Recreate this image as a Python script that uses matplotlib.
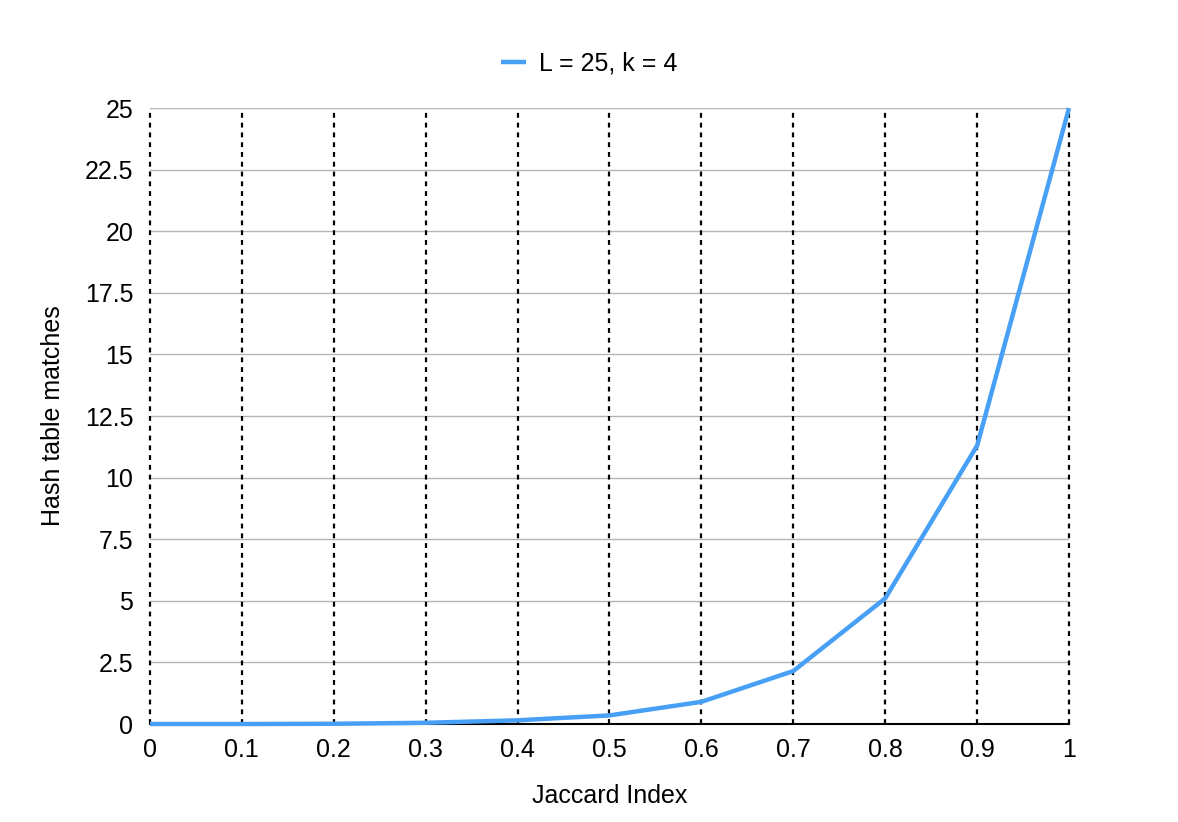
import numpy as np
import matplotlib.pyplot as plt

plt.rcParams['font.family'] = ['Liberation Sans', 'DejaVu Sans']

# Data
jaccard = [0, 0.1, 0.2, 0.3, 0.4, 0.5, 0.6, 0.7, 0.8, 0.9, 1.0]
matches = [0, 0, 0.01, 0.05, 0.15, 0.35, 0.9, 2.15, 5.1, 11.3, 25]
series_label = 'L = 25, k = 4'
x_ticks = [0, 0.1, 0.2, 0.3, 0.4, 0.5, 0.6, 0.7, 0.8, 0.9, 1]
x_tick_labels = ['0', '0.1', '0.2', '0.3', '0.4', '0.5', '0.6', '0.7', '0.8', '0.9', '1']
y_ticks = [0, 2.5, 5, 7.5, 10, 12.5, 15, 17.5, 20, 22.5, 25]
y_tick_labels = ['0', '2.5', '5', '7.5', '10', '12.5', '15', '17.5', '20', '22.5', '25']

fig = plt.figure(figsize=(11.78, 8.22), dpi=100)
ax = fig.add_axes([0.1273, 0.1192, 0.7802, 0.7494])

# horizontal gray grid, vertical black dotted grid
for y in y_ticks[1:]:
    ax.axhline(y, color='#b5b5b5', lw=1, zorder=1)
for x in x_ticks:
    ax.axvline(x, color='black', lw=1.6, ls=(0, (2.2, 2.2)), zorder=1, clip_on=False)

ax.plot(jaccard, matches, color='#47a0f5', lw=3.2, solid_capstyle='butt',
        solid_joinstyle='round', label=series_label, zorder=3, clip_on=False)

ax.set_xlim(0, 1)
ax.set_ylim(0, 25)
ax.set_xticks(x_ticks)
ax.set_xticklabels(x_tick_labels)
ax.set_yticks(y_ticks)
ax.set_yticklabels(y_tick_labels)
ax.tick_params(length=0, labelsize=18, pad=10)
ax.tick_params(axis='y', pad=12)

for s in ['top', 'right', 'left']:
    ax.spines[s].set_visible(False)
ax.spines['bottom'].set_color('black')
ax.spines['bottom'].set_linewidth(1.5)
ax.spines['bottom'].set_zorder(2)

ax.set_xlabel('Jaccard Index', fontsize=18, labelpad=16)
ax.set_ylabel('Hash table matches', fontsize=18, labelpad=14)

fig.legend(loc='center', bbox_to_anchor=(0.5, 0.923), frameon=False,
           fontsize=18, handlelength=1.0, handletextpad=0.5)

fig.savefig('out.png', dpi=100)
